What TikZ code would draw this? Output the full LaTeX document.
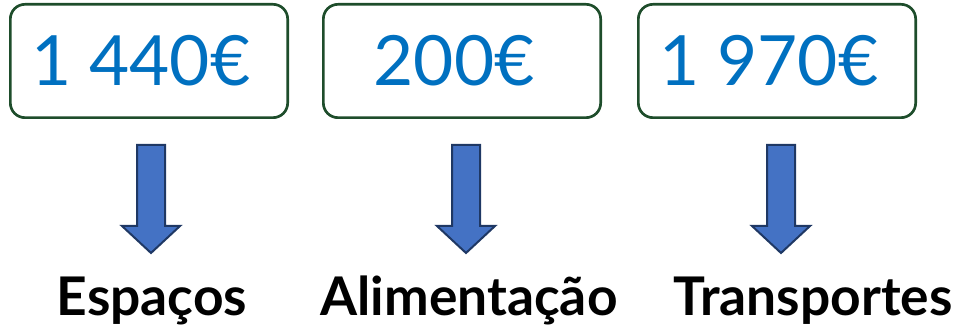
\documentclass[tikz,border=0pt]{standalone}
\usepackage{fontspec}
\setmainfont{Lato}
\usetikzlibrary{positioning}
\definecolor{boxgreen}{HTML}{1E4D2B}
\definecolor{valueblue}{HTML}{0070C0}
\definecolor{arrowfill}{HTML}{4472C4}
\definecolor{arrowline}{HTML}{1F3864}
\tikzset{
  valuebox/.style={draw=boxgreen,line width=2pt,rounded corners=11pt,
    minimum width=208pt,minimum height=85pt,inner sep=0pt,
    text=valueblue,font=\fontsize{52}{60}\selectfont,
    execute at end node=\hspace{12pt}},
  catlabel/.style={anchor=base,inner sep=0pt,font=\fontsize{40}{48}\selectfont\bfseries},
  downarrow/.style={fill=arrowfill,draw=arrowline,line width=1.5pt,line join=miter}
}
\begin{document}
\begin{tikzpicture}[x=0.75pt,y=-0.75pt]
 \useasboundingbox (0,0) rectangle (969,327);
 % value boxes
 \node [valuebox] (espacos)  at (149,61) {1 440€};
 \node [valuebox] (aliment)  at (462,61) {200€};
 \node [valuebox] (transp)   at (777,61) {1 970€};
 % arrows
 \foreach \x in {151,466,781}
  \draw [downarrow] (\x-14,145) -- (\x+14,145) -- (\x+14,226) -- (\x+29,226)
    -- (\x,253) -- (\x-29,226) -- (\x-14,226) -- cycle;
 % labels
 \node [catlabel] (espacoslbl) at (152,315) {Espaços};
 \node [catlabel] (alimentlbl) at (469,315) {Alimentação};
 \node [catlabel] (transplbl)  at (813,315) {Transportes};
\end{tikzpicture}
\end{document}
